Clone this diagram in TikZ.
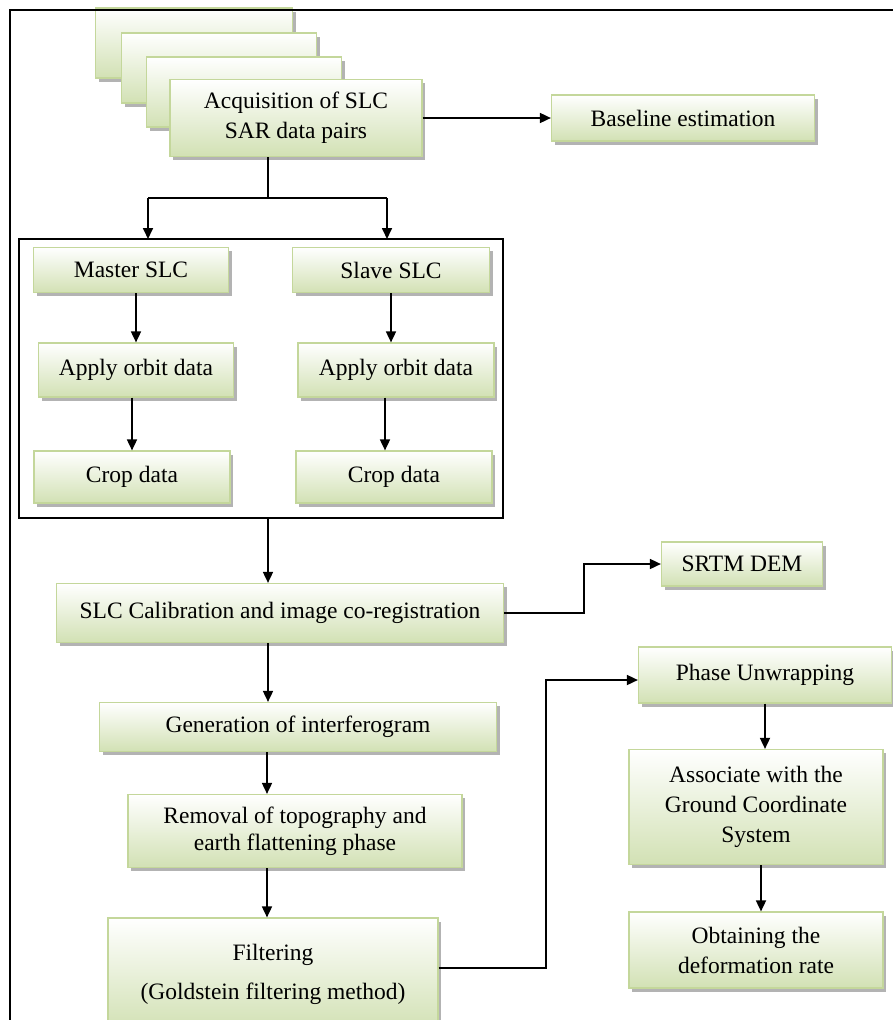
\documentclass[tikz,border=0pt]{standalone}
\usepackage{fontspec}
\setmainfont{Liberation Serif}
\newfontfamily\boxfont{Liberation Serif}
\usetikzlibrary{arrows.meta,shadows}
\definecolor{boxline}{RGB}{196,215,155}
\definecolor{boxfill}{RGB}{210,225,180}
\begin{document}
\begin{tikzpicture}[
        x=1pt,y=-1pt,
        line/.style={line width=1.7pt},
        box/.style={draw=boxline,line width=1.2pt,top color=white,bottom color=boxfill,
            drop shadow={shadow xshift=3pt,shadow yshift=-3.5pt,fill=black!50,opacity=.6},
            align=center,inner sep=2pt,font=\boxfont\fontsize{23.5}{30}\selectfont},
        arr/.style={line,-{Triangle[length=11pt,width=10pt]}}
    ]
    \useasboundingbox (0,0) rectangle (893,1020);

    % stacked SAR scenes
    \node [box,minimum width=197,minimum height=70] (stk1) at (194,43) {};
    \node [box,minimum width=195,minimum height=70] (stk2) at (219,68) {};
    \node [box,minimum width=195,minimum height=70] (stk3) at (244,92) {};
    \node [box,minimum width=252,minimum height=77] (acq) at (296,118)
        {Acquisition of SLC\\SAR data pairs};
    \node [box,minimum width=263,minimum height=46] (base) at (683,118) {Baseline estimation};

    % master / slave branch
    \draw [line width=2pt] (19,239) rectangle (503,518);
    \coordinate (grp) at (261,239);
    \coordinate (grpout) at (268,518);
    \node [box,minimum width=195,minimum height=45] (master) at (131,270) {Master SLC};
    \node [box,minimum width=197,minimum height=45] (slave) at (391,270) {Slave SLC};
    \node [box,minimum width=195,minimum height=54] (orbL) at (136,370) {Apply orbit data};
    \node [box,minimum width=196,minimum height=54] (orbR) at (396,370) {Apply orbit data};
    \node [box,minimum width=196,minimum height=52] (cropL) at (132,477) {Crop data};
    \node [box,minimum width=196,minimum height=52] (cropR) at (394,477) {Crop data};

    % main chain
    \node [box,minimum width=447,minimum height=59] (cal) at (280,613)
        {SLC Calibration and image co-registration};
    \node [box,minimum width=161,minimum height=44] (srtm) at (742,564) {SRTM DEM};
    \node [box,minimum width=397,minimum height=49] (gen) at (298,727)
        {Generation of interferogram};
    \node [box,minimum width=334,minimum height=73,font=\boxfont\fontsize{23.5}{27}\selectfont] (rem) at (295,831)
        {Removal of topography and\\earth flattening phase};
    \node [box,minimum width=330,minimum height=112] (filt) at (273,974)
        {Filtering\\[9pt](Goldstein filtering method)};
    \node [box,minimum width=253,minimum height=56] (phase) at (765,675) {Phase Unwrapping};
    \node [box,minimum width=254,minimum height=115] (assoc) at (756,807)
        {Associate with the\\Ground Coordinate\\System};
    \node [box,minimum width=254,minimum height=76] (obtain) at (756,950)
        {Obtaining the\\deformation rate};

    % connectors
    \coordinate (split) at (268,198);
    \coordinate (jl) at (148,198);
    \coordinate (jr) at (387,198);
    \draw [arr] (acq) -- (base);
    \draw [line] (split |- acq.south) -- (split);
    \draw [line] (jl) -- (jr);
    \draw [arr] (jl) -- (jl |- grp);
    \draw [arr] (jr) -- (jr |- grp);
    \draw [arr] (orbL.north |- master.south) -- (orbL.north);
    \draw [arr] (slave.south) -- (slave.south |- orbR.north);
    \draw [arr] (cropL.north |- orbL.south) -- (cropL.north);
    \draw [arr] (orbR.south -| 385,0) -- (cropR.north -| 385,0);
    \draw [arr] (grpout) -- (grpout |- cal.north);
    \draw [arr] (cal.east) -- ++(80,0) |- (srtm.west);
    \draw [arr] (cal.south -| grpout) -- (gen.north -| grpout);
    \draw [arr] (gen.south -| 267,0) -- (rem.north -| 267,0);
    \draw [arr] (rem.south -| 267,0) -- (filt.north -| 267,0);
    \draw [arr] ([yshift=6pt]filt.east) -- (546,968) |- ([yshift=-5pt]phase.west);
    \draw [arr] (phase) -- (phase |- assoc.north);
    \draw [arr] (assoc.south -| 761,0) -- (obtain.north -| 761,0);

    % page frame
    \draw [line] (10,1030) -- (10,10) -- (900,10);
\end{tikzpicture}
\end{document}
